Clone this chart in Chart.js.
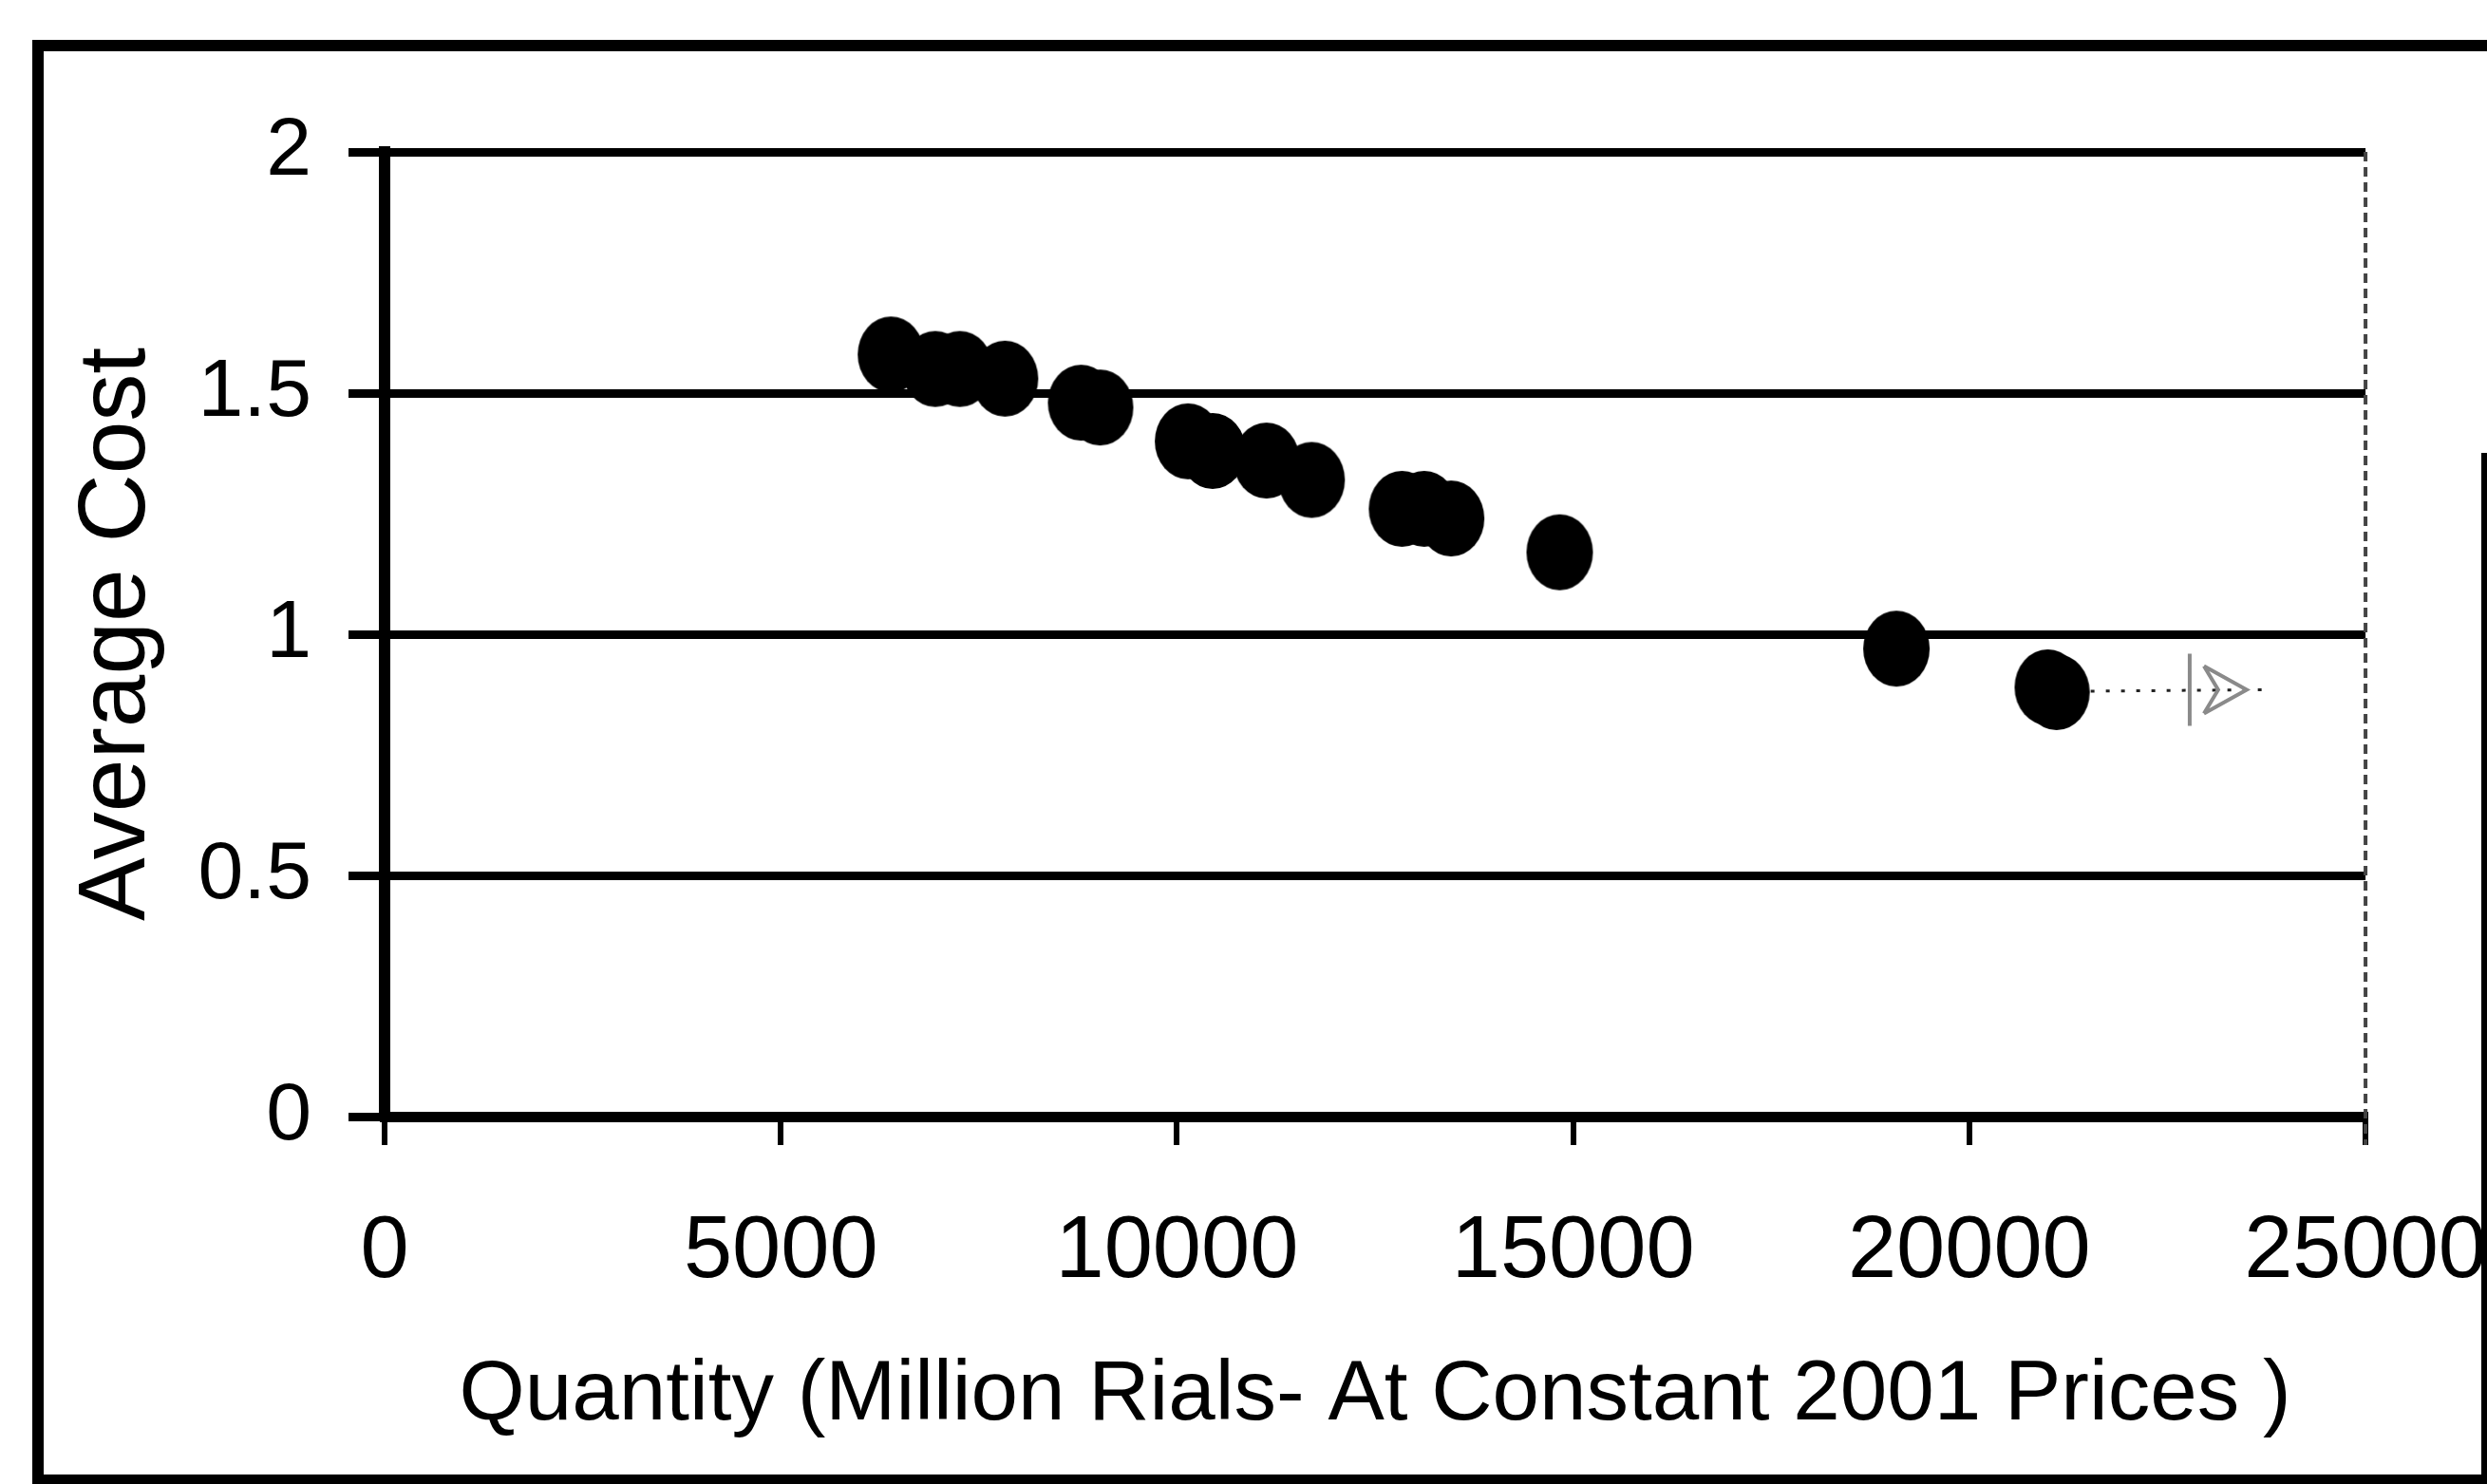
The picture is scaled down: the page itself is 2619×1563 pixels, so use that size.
<!DOCTYPE html>
<html>
<head>
<meta charset="utf-8">
<title>Average Cost vs Quantity</title>
<script src="https://cdn.jsdelivr.net/npm/chart.js@4.4.1/dist/chart.umd.min.js"></script>
<style>
  html, body { margin: 0; padding: 0; background: #ffffff; }
  #wrap { width: 2619px; height: 1563px; position: relative; }
</style>
</head>
<body>
<div id="wrap"><canvas id="cost-plot" width="2619" height="1563"></canvas></div>
<script>
// Scatter of average cost against output quantity
const quantity = [6390, 6950, 7260, 7830, 8790, 9030, 10140, 10450, 11130, 11700, 12840, 13120, 13460, 14830, 19080, 20990, 21100];
const avgCost  = [1.58, 1.55, 1.55, 1.53, 1.48, 1.47, 1.40, 1.38, 1.36, 1.32, 1.26, 1.26, 1.24, 1.17, 0.97, 0.89, 0.88];

const xTicks = [0, 5000, 10000, 15000, 20000, 25000];
const yTicks = [0, 0.5, 1, 1.5, 2];

// dotted leader running right from the last point
const leaderFrom = [21100, 0.882];
const leaderTo   = [23500, 0.885];

const xTitle = 'Quantity (Million Rials- At Constant 2001 Prices )';
const yTitle = 'Average Cost';

const FONT = "'Liberation Sans', Arial, Helvetica, sans-serif";

// filled dot, a little taller than wide
function makeDot(w, h) {
    const c = document.createElement('canvas');
    c.width = w;
    c.height = h;
    const g = c.getContext('2d');
    g.fillStyle = '#000';
    g.beginPath();
    g.ellipse(w / 2, h / 2, w / 2 - 1, h / 2 - 1, 0, 0, Math.PI * 2);
    g.fill();
    return c;
}
const dot = makeDot(72, 82);

// outer frame, dashed right edge of the plot and the leader mark
const decorPlugin = {
    id: 'decor',
    beforeDraw(chart) {
        const ctx = chart.ctx;
        ctx.save();
        ctx.fillStyle = '#fff';
        ctx.fillRect(0, 0, chart.width, chart.height);
        ctx.restore();
    },
    afterDraw(chart) {
        const ctx = chart.ctx;
        const area = chart.chartArea;
        const xs = chart.scales.x;
        const ys = chart.scales.y;

        ctx.save();
        // right border of the plot area
        ctx.strokeStyle = '#444';
        ctx.lineWidth = 4;
        ctx.setLineDash([10, 6]);
        ctx.beginPath();
        ctx.moveTo(area.right, area.top);
        ctx.lineTo(area.right, area.bottom + 30);
        ctx.stroke();

        // leader line
        const x0 = xs.getPixelForValue(leaderFrom[0]) + 36;
        const y0 = ys.getPixelForValue(leaderFrom[1]);
        const x1 = xs.getPixelForValue(leaderTo[0]);
        const y1 = ys.getPixelForValue(leaderTo[1]);
        ctx.strokeStyle = '#222';
        ctx.lineWidth = 3;
        ctx.setLineDash([4, 12]);
        ctx.beginPath();
        ctx.moveTo(x0, y0);
        ctx.lineTo(x1 + 20, y1);
        ctx.stroke();

        // faint arrow head at the end of the leader
        ctx.setLineDash([]);
        ctx.strokeStyle = '#8a8a8a';
        ctx.lineWidth = 4;
        ctx.beginPath();
        ctx.moveTo(x1 - 60, y1 - 38);
        ctx.lineTo(x1 - 60, y1 + 38);
        ctx.moveTo(x1 - 45, y1 - 25);
        ctx.lineTo(x1, y1);
        ctx.lineTo(x1 - 45, y1 + 25);
        ctx.moveTo(x1 - 45, y1 - 25);
        ctx.lineTo(x1 - 30, y1);
        ctx.lineTo(x1 - 45, y1 + 25);
        ctx.stroke();

        // outer frame
        ctx.strokeStyle = '#000';
        ctx.lineWidth = 12;
        ctx.lineCap = 'square';
        ctx.beginPath();
        ctx.moveTo(40, 1558);
        ctx.lineTo(40, 48);
        ctx.lineTo(2619, 48);
        ctx.moveTo(40, 1559);
        ctx.lineTo(2619, 1559);
        ctx.stroke();
        ctx.lineWidth = 6;
        ctx.beginPath();
        ctx.moveTo(2616, 480);
        ctx.lineTo(2616, 1563);
        ctx.stroke();
        ctx.restore();
    }
};

const config = {
    type: 'scatter',
    data: {
        datasets: [{
            label: yTitle,
            data: quantity.map((q, i) => ({ x: q, y: avgCost[i] })),
            pointStyle: dot,
            pointRadius: 36,
            backgroundColor: '#000',
            borderColor: '#000'
        }]
    },
    plugins: [decorPlugin],
    options: {
        responsive: false,
        animation: false,
        events: [],
        layout: { padding: { left: 0, right: 127, top: 160, bottom: 0 } },
        plugins: {
            legend: { display: false },
            tooltip: { enabled: false }
        },
        scales: {
            x: {
                type: 'linear',
                min: xTicks[0],
                max: xTicks[xTicks.length - 1],
                afterFit: s => { s.height = 387; },
                afterBuildTicks: s => { s.ticks = xTicks.map(v => ({ value: v })); },
                border: { display: true, color: '#000', width: 11 },
                grid: {
                    drawOnChartArea: false,
                    drawTicks: true,
                    tickLength: 30,
                    tickWidth: 6,
                    color: '#000',
                    lineWidth: 6
                },
                ticks: {
                    color: '#000',
                    // labels pushed down through line height, so the
                    // right-hand padding only covers half the last label
                    padding: 0,
                    maxRotation: 0,
                    autoSkip: false,
                    font: { family: FONT, size: 92, lineHeight: 2.48 },
                    callback: v => String(v)
                },
                title: {
                    display: true,
                    text: xTitle,
                    color: '#000',
                    padding: { top: 0, bottom: 48 },
                    font: { family: FONT, size: 89, lineHeight: 1 }
                }
            },
            y: {
                type: 'linear',
                min: yTicks[0],
                max: yTicks[yTicks.length - 1],
                afterFit: s => { s.width = 405; },
                afterBuildTicks: s => { s.ticks = yTicks.map(v => ({ value: v })); },
                border: { display: true, color: '#000', width: 12 },
                grid: {
                    drawOnChartArea: true,
                    drawTicks: true,
                    tickLength: 38,
                    color: '#000',
                    lineWidth: 9
                },
                ticks: {
                    color: '#000',
                    padding: 39,
                    autoSkip: false,
                    font: { family: FONT, size: 86, lineHeight: 1 },
                    callback: v => String(v)
                },
                title: {
                    display: true,
                    text: yTitle,
                    color: '#000',
                    padding: { top: 74, bottom: 0 },
                    font: { family: FONT, size: 100, lineHeight: 1 }
                }
            }
        }
    }
};

new Chart(document.getElementById('cost-plot'), config);
</script>
</body>
</html>
